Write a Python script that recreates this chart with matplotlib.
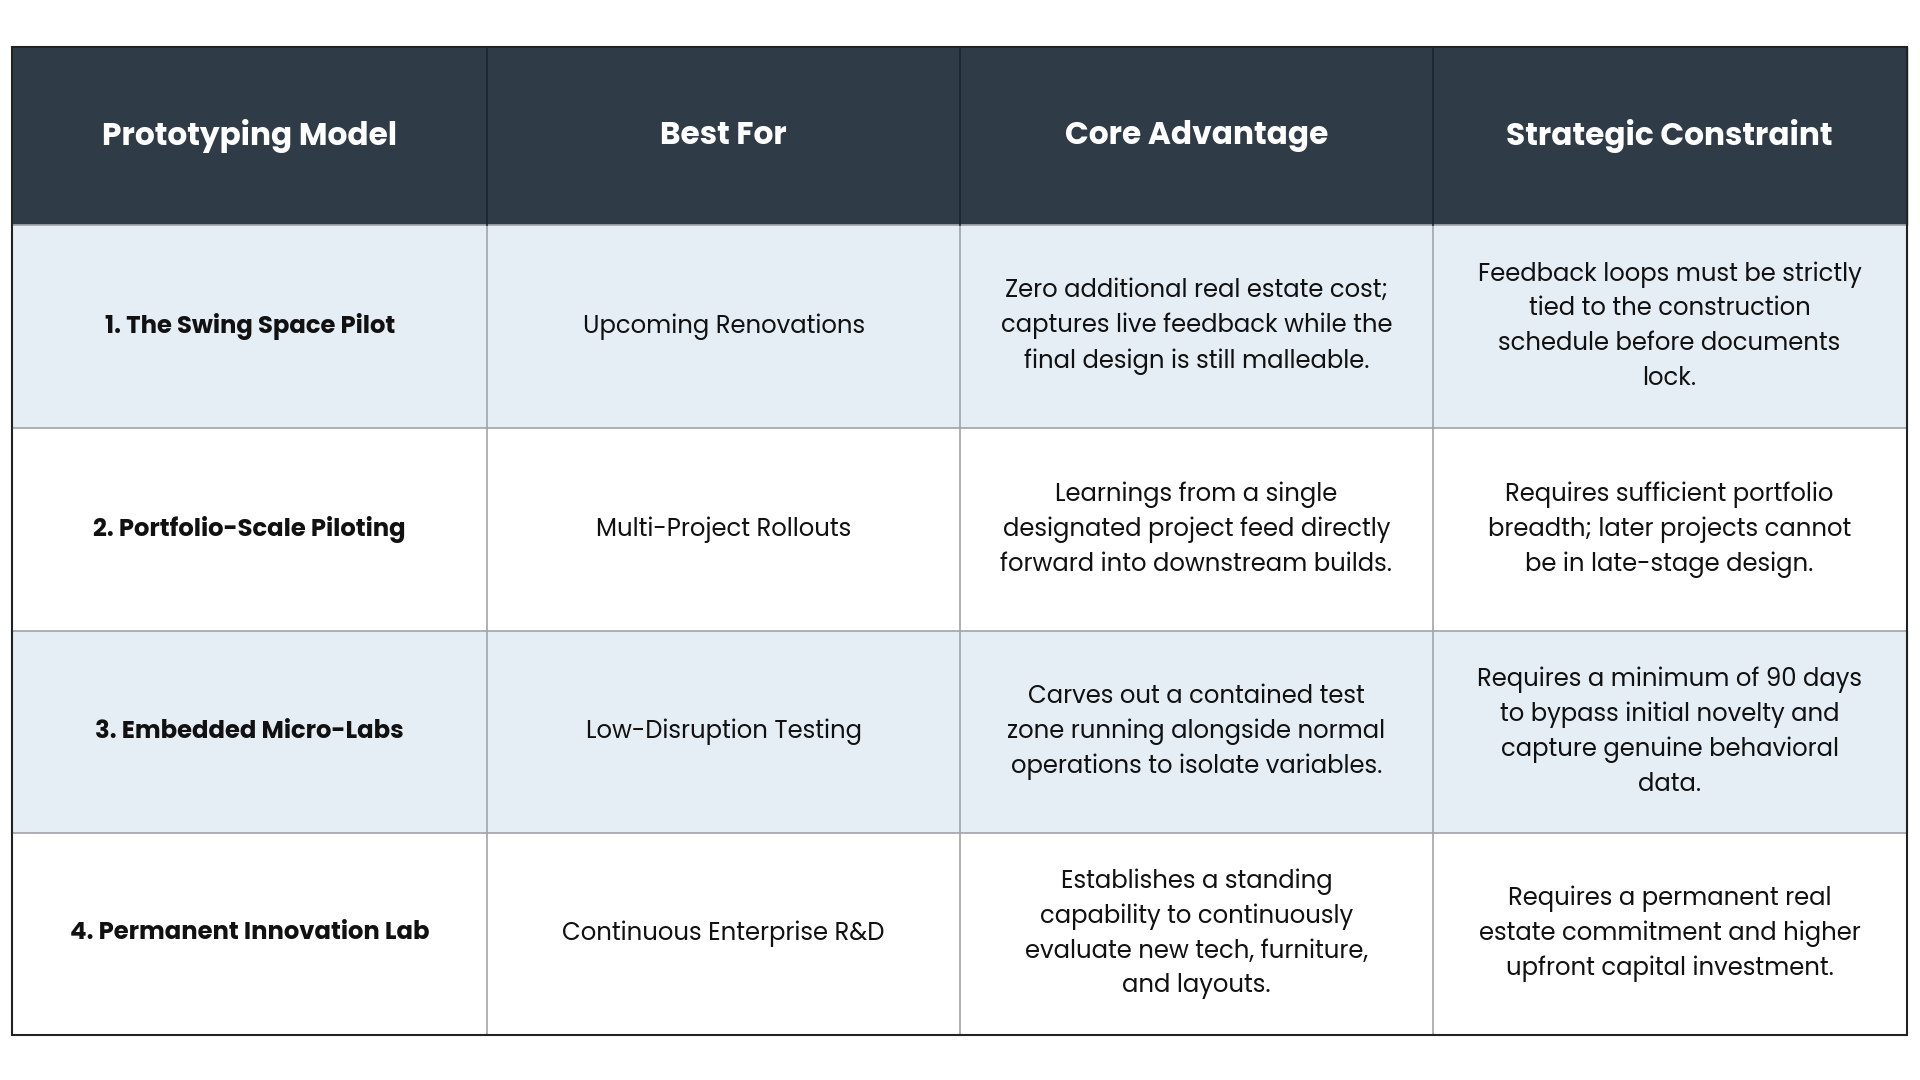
import matplotlib
matplotlib.use("Agg")
import matplotlib.pyplot as plt
from matplotlib.patches import Rectangle

headers = ["Prototyping Model", "Best For", "Core Advantage", "Strategic Constraint"]
models = ["1. The Swing Space Pilot", "2. Portfolio-Scale Piloting", "3. Embedded Micro-Labs", "4. Permanent Innovation Lab"]
best_for = ["Upcoming Renovations", "Multi-Project Rollouts", "Low-Disruption Testing", "Continuous Enterprise R&D"]
advantage = [
    "Zero additional real estate cost;\ncaptures live feedback while the\nfinal design is still malleable.",
    "Learnings from a single\ndesignated project feed directly\nforward into downstream builds.",
    "Carves out a contained test\nzone running alongside normal\noperations to isolate variables.",
    "Establishes a standing\ncapability to continuously\nevaluate new tech, furniture,\nand layouts.",
]
constraint = [
    "Feedback loops must be strictly\ntied to the construction\nschedule before documents\nlock.",
    "Requires sufficient portfolio\nbreadth; later projects cannot\nbe in late-stage design.",
    "Requires a minimum of 90 days\nto bypass initial novelty and\ncapture genuine behavioral\ndata.",
    "Requires a permanent real\nestate commitment and higher\nupfront capital investment.",
]

fig = plt.figure(figsize=(19.2, 10.8), dpi=100)
ax = fig.add_axes([0, 0, 1, 1])
ax.set_xlim(0, 1568); ax.set_ylim(880, 0); ax.axis("off")

xs = [10, 398, 784, 1170, 1557]
ys = [38, 183, 349, 514, 679, 843]
hdr = "#2f3c47"; alt = "#e6eef5"; line = "#a0a4a8"
fam = ["Poppins", "Lato", "DejaVu Sans"]

ax.add_patch(Rectangle((xs[0], ys[0]), xs[-1]-xs[0], ys[1]-ys[0], color=hdr, zorder=1))
for i in range(4):
    c = alt if i % 2 == 0 else "white"
    ax.add_patch(Rectangle((xs[0], ys[i+1]), xs[-1]-xs[0], ys[i+2]-ys[i+1], color=c, zorder=1))
for j, h in enumerate(headers):
    ax.text((xs[j]+xs[j+1])/2, (ys[0]+ys[1])/2, h, ha="center", va="center",
            color="white", fontsize=22.5, fontweight="bold", family=fam, zorder=3)
cols = [models, best_for, advantage, constraint]
for i in range(4):
    cy = (ys[i+1]+ys[i+2])/2
    for j, col in enumerate(cols):
        ax.text((xs[j]+xs[j+1])/2, cy, col[i], ha="center", va="center", color="#111111",
                fontsize=17.5, fontweight="bold" if j == 0 else "normal", family=fam,
                linespacing=1.45, zorder=3)
for y in ys[1:]:
    ax.plot([xs[0], xs[-1]], [y, y], color=line, lw=1.2, zorder=2)
for x in xs[1:-1]:
    ax.plot([x, x], [ys[1], ys[-1]], color=line, lw=1.2, zorder=2)
for x in xs[1:-1]:
    ax.plot([x, x], [ys[0], ys[1]], color="#1c252d", lw=1.2, zorder=2)
ax.add_patch(Rectangle((xs[0], ys[0]), xs[-1]-xs[0], ys[-1]-ys[0], fill=False, ec="#222222", lw=1.5, zorder=4))
fig.savefig("out.png", dpi=100, facecolor="white")
